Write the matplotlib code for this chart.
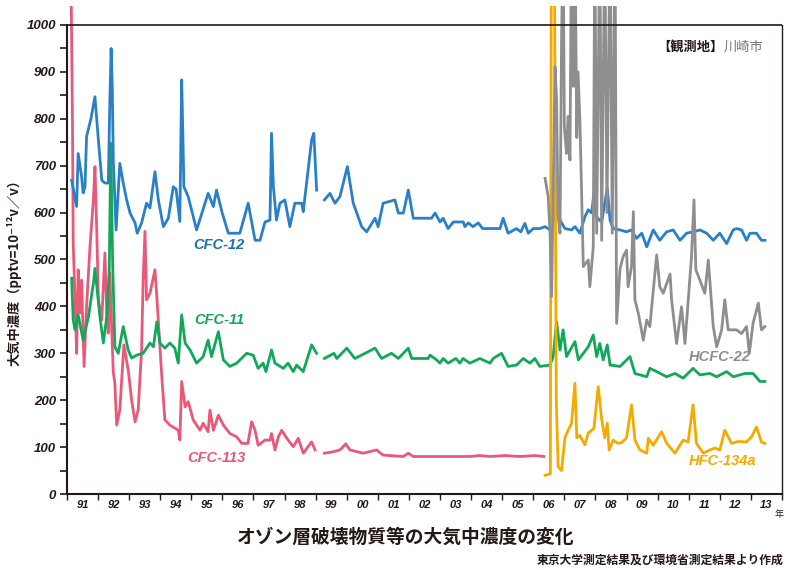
import numpy as np
import matplotlib
matplotlib.use("Agg")
import matplotlib.pyplot as plt
from matplotlib.ticker import FixedLocator, MultipleLocator

nan = np.nan

# CFC-12 (blue)
cfc12_t = [1991.15, 1991.31, 1991.36, 1991.47, 1991.52, 1991.58, 1991.63, 1991.77, 1991.90,
           1992.01, 1992.12, 1992.22, 1992.33, 1992.38, 1992.42, 1992.46, 1992.49, 1992.58,
           1992.70, 1992.81, 1992.92, 1993.03, 1993.19, 1993.26, 1993.40, 1993.56, 1993.67,
           1993.83, 1993.94, 1994.10, 1994.26, 1994.42, 1994.51, 1994.63, 1994.69, 1994.73,
           1994.76, 1994.90, 1995.17, 1995.54, 1995.71, 1995.81, 1995.99, 1996.19, 1996.56,
           1996.83, 1997.05, 1997.21, 1997.37, 1997.53, 1997.58, 1997.64, 1997.74, 1997.85,
           1998.01, 1998.17, 1998.33, 1998.55, 1998.60, 1998.87, 1998.94, 1999.03, 1999.15,
           1999.28, 1999.46, 1999.62, 1999.78, 2000.02, 2000.21, 2000.48, 2000.64, 2000.91,
           2001.01, 2001.17, 2001.55, 2001.66, 2001.82, 2001.98, 2002.14, 2002.73, 2002.84,
           2003.00, 2003.10, 2003.26, 2003.43, 2003.75, 2003.80, 2003.91, 2004.06, 2004.23,
           2004.37, 2004.93, 2005.03, 2005.19, 2005.46, 2005.60, 2005.73, 2005.84, 2006.00,
           2006.21, 2006.38, 2006.54, 2006.64, 2006.75, 2006.86, 2007.02, 2007.23, 2007.34,
           2007.50, 2007.66, 2007.77, 2007.88, 2007.95, 2008.02, 2008.20, 2008.38, 2008.47,
           2008.57, 2008.79, 2009.00, 2009.16, 2009.32, 2009.49, 2009.65, 2009.86, 2010.07,
           2010.29, 2010.50, 2010.72, 2010.93, 2011.14, 2011.36, 2011.58, 2011.79, 2012.00,
           2012.22, 2012.43, 2012.54, 2012.70, 2012.86, 2012.97, 2013.18, 2013.34, 2013.45]
cfc12_v = [669, 613, 726, 677, 642, 655, 762, 800, 847,
           755, 669, 663, 663, 840, 950, 860, 712, 563,
           705, 663, 627, 599, 578, 556, 578, 620, 610,
           687, 627, 570, 588, 655, 650, 581, 883, 760,
           655, 634, 563, 641, 613, 648, 600, 556, 556,
           620, 541, 541, 580, 584, 769, 655, 584, 620,
           627, 570, 620, 620, 602, 755, 769, 648, nan,
           627, 641, 620, 634, 698, 620, 570, 559, 588,
           570, 620, 627, 599, 599, 648, 588, 588, 599,
           580, 588, 566, 580, 580, 570, 578, 570, 578,
           566, 566, 588, 556, 566, 559, 577, 556, 566,
           566, 570, 563, 577, 613, 584, 566, 563, 570,
           556, 591, 606, 599, 641, 591, 580, 652, 584,
           566, 563, 559, 563, 545, 556, 527, 563, 541,
           559, 563, 541, 556, 559, 563, 556, 541, 556,
           534, 563, 566, 563, 541, 556, 556, 541, 541]

# CFC-11 (green)
cfc11_t = [1991.15, 1991.20, 1991.26, 1991.36, 1991.52, 1991.69, 1991.85, 1991.90, 1992.06,
           1992.17, 1992.28, 1992.36, 1992.41, 1992.47, 1992.54, 1992.65, 1992.81, 1992.97,
           1993.08, 1993.24, 1993.45, 1993.67, 1993.78, 1993.89, 1993.99, 1994.15, 1994.31,
           1994.47, 1994.58, 1994.69, 1994.80, 1994.96, 1995.17, 1995.38, 1995.54, 1995.65,
           1995.87, 1996.03, 1996.24, 1996.46, 1996.78, 1996.99, 1997.15, 1997.31, 1997.40,
           1997.58, 1997.69, 1997.96, 1998.11, 1998.28, 1998.39, 1998.60, 1998.87, 1999.03,
           1999.15, 1999.28, 1999.59, 1999.68, 2000.00, 2000.26, 2000.59, 2000.91, 2001.12,
           2001.44, 2001.66, 2001.98, 2002.09, 2002.62, 2002.68, 2002.89, 2003.00, 2003.10,
           2003.26, 2003.51, 2003.64, 2003.74, 2003.96, 2004.28, 2004.61, 2004.71, 2004.98,
           2005.19, 2005.46, 2005.68, 2005.89, 2006.05, 2006.21, 2006.54, 2006.64, 2006.75,
           2006.86, 2006.96, 2007.07, 2007.34, 2007.45, 2007.77, 2007.93, 2008.04, 2008.14,
           2008.25, 2008.38, 2008.47, 2008.79, 2009.11, 2009.27, 2009.65, 2009.75, 2009.97,
           2010.29, 2010.56, 2010.82, 2011.14, 2011.36, 2011.68, 2011.90, 2012.22, 2012.43,
           2012.81, 2013.07, 2013.29, 2013.45]
cfc11_v = [460, 371, 350, 382, 328, 378, 449, 481, 378,
           322, 378, 478, 748, 492, 314, 300, 357, 307,
           290, 296, 300, 322, 314, 367, 322, 311, 322,
           311, 279, 382, 322, 307, 279, 293, 328, 293,
           346, 286, 272, 279, 300, 296, 268, 279, 261,
           307, 279, 268, 279, 261, 275, 261, 318, 300,
           nan, 289, 300, 289, 311, 289, 300, 311, 289,
           300, 289, 311, 289, 289, 296, 286, 279, 289,
           279, 289, 279, 289, 279, 289, 279, 289, 300,
           272, 275, 289, 279, 289, 272, 275, 293, 367,
           307, 350, 293, 325, 286, 314, 339, 293, 321,
           286, 318, 275, 272, 293, 257, 250, 268, 261,
           250, 257, 247, 268, 254, 257, 250, 261, 250,
           257, 257, 240, 240]

# CFC-113 (pink)
cfc113_t = [1991.13, 1991.18, 1991.20, 1991.26, 1991.31, 1991.36, 1991.42, 1991.47, 1991.55,
            1991.63, 1991.74, 1991.85, 1991.90, 1991.96, 1992.01, 1992.12, 1992.22, 1992.28,
            1992.33, 1992.38, 1992.44, 1992.49, 1992.54, 1992.60, 1992.70, 1992.83, 1992.97,
            1993.08, 1993.19, 1993.29, 1993.40, 1993.45, 1993.51, 1993.56, 1993.67, 1993.83,
            1993.89, 1994.05, 1994.15, 1994.31, 1994.58, 1994.63, 1994.69, 1994.80, 1994.90,
            1995.06, 1995.28, 1995.38, 1995.54, 1995.60, 1995.71, 1995.87, 1996.03, 1996.24,
            1996.46, 1996.62, 1996.82, 1996.94, 1997.05, 1997.15, 1997.37, 1997.53, 1997.58,
            1997.69, 1997.80, 1997.91, 1998.07, 1998.28, 1998.44, 1998.60, 1998.87, 1998.98,
            1999.15, 1999.28, 1999.56, 1999.78, 1999.97, 2000.10, 2000.53, 2000.96, 2001.17,
            2001.82, 2001.98, 2002.14, 2003.00, 2003.96, 2004.28, 2004.61, 2005.09, 2005.57,
            2006.05, 2006.34]
cfc113_v = [1100, 770, 535, 414, 300, 478, 386, 456, 272,
            399, 527, 627, 698, 556, 414, 371, 514, 386,
            343, 471, 350, 260, 236, 147, 179, 318, 264,
            200, 154, 179, 307, 456, 560, 414, 428, 478,
            421, 250, 158, 147, 136, 115, 240, 186, 197,
            158, 136, 151, 133, 179, 136, 168, 147, 129,
            122, 108, 108, 154, 136, 104, 115, 115, 129,
            94, 122, 136, 119, 101, 119, 87, 111, 94,
            nan, 87, 90, 94, 107, 94, 87, 94, 83,
            80, 87, 80, 80, 80, 82, 80, 82, 80,
            82, 80]

# HCFC-22 (gray)
hcfc22_t = [2006.38, 2006.48, 2006.54, 2006.59, 2006.70, 2006.75, 2006.80, 2006.86, 2006.91,
            2006.96, 2007.00, 2007.07, 2007.12, 2007.18, 2007.23, 2007.29, 2007.34, 2007.40,
            2007.44, 2007.50, 2007.61, 2007.77, 2007.82, 2007.93, 2007.98, 2008.04, 2008.14,
            2008.20, 2008.30, 2008.37, 2008.47, 2008.54, 2008.63, 2008.68, 2008.79, 2008.89,
            2009.00, 2009.05, 2009.16, 2009.22, 2009.27, 2009.38, 2009.54, 2009.65, 2009.75,
            2009.97, 2010.07, 2010.18, 2010.40, 2010.45, 2010.61, 2010.77, 2010.88, 2011.09,
            2011.17, 2011.23, 2011.36, 2011.52, 2011.63, 2011.79, 2011.90, 2012.06, 2012.16,
            2012.27, 2012.54, 2012.70, 2012.86, 2012.95, 2013.07, 2013.24, 2013.34, 2013.45]
hcfc22_v = [673, 634, 556, 421, 911, 840, 591, 556, 968,
            1200, 783, 726, 805, 712, 1200, 869, 1200, 760,
            900, 797, 485, 499, 442, 527, 1200, 556, 1200,
            541, 1200, 600, 1200, 556, 1200, 364, 480, 506,
            520, 442, 485, 602, 414, 385, 328, 371, 357,
            510, 442, 428, 469, 414, 321, 399, 321, 506,
            627, 478, 456, 428, 499, 357, 314, 350, 414,
            350, 350, 342, 357, 300, 364, 407, 350, 357]

# HFC-134a (orange)
hfc134a_t = [2006.38, 2006.50, 2006.55, 2006.58, 2006.68, 2006.74, 2006.80, 2006.91, 2007.02,
             2007.12, 2007.23, 2007.34, 2007.40, 2007.50, 2007.66, 2007.77, 2007.88, 2007.95,
             2008.09, 2008.20, 2008.30, 2008.38, 2008.44, 2008.57, 2008.72, 2008.85, 2009.00,
             2009.16, 2009.27, 2009.43, 2009.65, 2009.70, 2009.86, 2010.13, 2010.29, 2010.56,
             2010.82, 2010.98, 2011.14, 2011.25, 2011.47, 2011.68, 2011.84, 2012.00, 2012.16,
             2012.38, 2012.58, 2012.86, 2013.02, 2013.18, 2013.34, 2013.45]
hfc134a_v = [40, 42, 44, 1150, 1150, 200, 58, 50, 120,
             136, 150, 236, 120, 125, 105, 130, 136, 140,
             229, 160, 120, 151, 94, 115, 108, 110, 120,
             190, 115, 94, 87, 119, 104, 133, 108, 87,
             115, 111, 190, 108, 87, 94, 98, 94, 136,
             108, 112, 111, 122, 143, 111, 108]

year_ticks = list(range(1991, 2015))
year_labels = ["91", "92", "93", "94", "95", "96", "97", "98", "99", "00", "01", "02",
               "03", "04", "05", "06", "07", "08", "09", "10", "11", "12", "13"]

c_blue = "#2a80c8"
c_green = "#12a85a"
c_pink = "#eb5877"
c_gray = "#8e8e8e"
c_orange = "#f6aa00"

jp = ["Noto Sans CJK JP", "DejaVu Sans"]
num_font = dict(family="Liberation Sans", weight="bold", style="italic")

fig = plt.figure(figsize=(7.87, 5.70), dpi=100)
ax = fig.add_axes([0.0851, 0.1333, 0.9085, 0.8558])

lw = 2.0
ax.plot(cfc113_t, cfc113_v, color=c_pink, lw=lw, zorder=3)
ax.plot(cfc11_t, cfc11_v, color=c_green, lw=lw, zorder=4)
ax.plot(cfc12_t, cfc12_v, color=c_blue, lw=lw, zorder=4)
ax.plot(hcfc22_t, hcfc22_v, color=c_gray, lw=lw, zorder=5)
ax.plot(hfc134a_t, hfc134a_v, color=c_orange, lw=lw, zorder=4)

ax.set_xlim(1991, 2014)
ax.set_ylim(0, 1040)
ax.axhline(1000, color="#231815", lw=1.2, zorder=6)

ax.spines["top"].set_visible(False)
ax.spines["left"].set_bounds(0, 1000)
ax.spines["right"].set_bounds(0, 1000)
for s in ["left", "right", "bottom"]:
    ax.spines[s].set_color("#231815")
ax.spines["left"].set_linewidth(1.5)
ax.spines["bottom"].set_linewidth(1.5)
ax.spines["right"].set_linewidth(1.0)

ax.yaxis.set_minor_locator(MultipleLocator(50))
ax.set_yticks(range(0, 1001, 100))
ax.set_yticklabels([str(v) for v in range(0, 1001, 100)], **num_font, fontsize=9.5,
                   color="#231815")
ax.tick_params(axis="y", which="both", direction="out", length=5, width=1.2,
               color="#231815", pad=3)

ax.xaxis.set_major_locator(FixedLocator(year_ticks))
ax.xaxis.set_minor_locator(FixedLocator([y + 0.5 for y in year_ticks[:-1]]))
ax.set_xticklabels([])
ax.set_xticklabels(year_labels, minor=True, **num_font, fontsize=8, color="#231815")
ax.tick_params(axis="x", which="major", direction="out", length=4, width=1.0,
               color="#231815")
ax.tick_params(axis="x", which="minor", length=0, pad=4)

ax.set_ylabel("大気中濃度（pptv=10⁻¹²v／v）", family=jp, weight="bold", fontsize=9.5,
              color="#231815")
ax.yaxis.set_label_coords(-0.063, 0.46)

fig.text(0.919, 0.9175, "【観測地】", ha="right", va="center",
         family=jp, weight="bold", fontsize=9.5, color="#231815")
fig.text(0.919, 0.9175, "川崎市", ha="left", va="center", family=jp, fontsize=9.5,
         color="#777777")

lab = dict(weight="bold", style="italic", fontsize=10.5, family="Liberation Sans",
           ha="center", va="center")
ax.text(1995.9, 530, "CFC-12", color="#1f6fb5", **lab)
ax.text(1995.9, 370, "CFC-11", color=c_green, **lab)
ax.text(1995.8, 77, "CFC-113", color=c_pink, **lab)
ax.text(2012.0, 292, "HCFC-22", color=c_gray, **lab)
ax.text(2012.1, 70, "HFC-134a", color=c_orange, **lab)

fig.text(0.995, 0.097, "年", family=jp, fontsize=6.5, ha="right", va="center",
         color="#231815")
fig.text(0.515, 0.058, "オゾン層破壊物質等の大気中濃度の変化", family=jp, weight="bold",
         fontsize=13.5, ha="center", va="center", color="#231815")
fig.text(0.995, 0.018, "東京大学測定結果及び環境省測定結果より作成", family=jp,
         weight="bold", fontsize=8.5, ha="right", va="center", color="#231815")

fig.savefig("out.png", dpi=100)
